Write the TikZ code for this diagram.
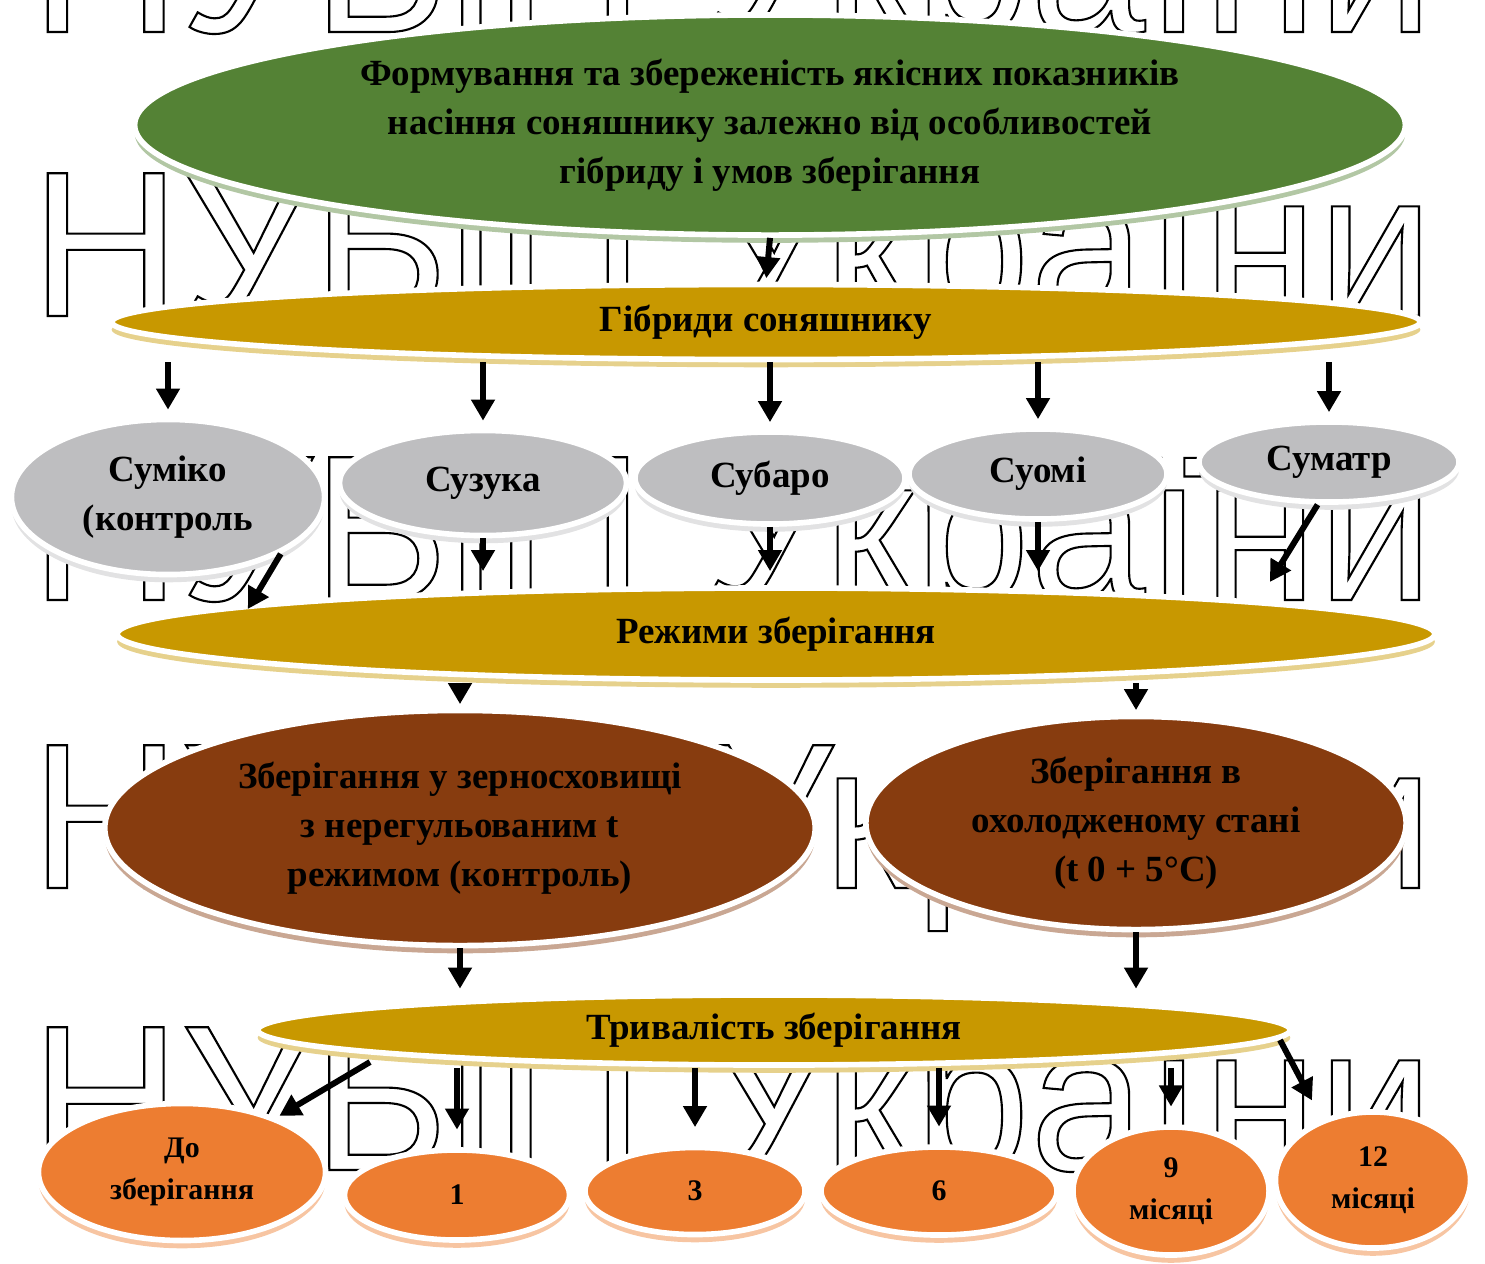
\documentclass[tikz,border=0pt]{standalone}
\usepackage{fontspec}
\setmainfont{Liberation Serif}
\newfontfamily\wmfont{Liberation Sans}
\usetikzlibrary{arrows.meta,positioning,shapes.geometric,shadows,calc}
\definecolor{leaf}{HTML}{548235}
\definecolor{gold}{HTML}{C89800}
\definecolor{ash}{HTML}{BEBEC0}
\definecolor{rust}{HTML}{873C0F}
\definecolor{peach}{HTML}{ED7D31}
% hollow letters for the watermark
\newcommand\hollowtext[1]{\special{pdf:literal direct 1 Tr 0.6 w 0 G}#1\special{pdf:literal direct 0 Tr}}

\begin{document}
\begin{tikzpicture}[x=0.01cm, y=-0.01cm,
  blob/.style={ellipse, inner sep=0pt, draw=white, line width=1.6pt, align=center,
    font=\bfseries\fontsize{10.5}{14}\selectfont,
    drop shadow={shadow xshift=0pt, shadow yshift=-2.2pt, opacity=1, fill=#1!45}, fill=#1},
  month/.style={blob=peach, font=\bfseries\fontsize{8.5}{12}\selectfont},
  arr/.style={-{Triangle[length=6pt,width=6.5pt]}, line width=1.7pt, shorten >=1pt}]
\useasboundingbox (0,0) rectangle (1485,1263);
% watermark rows
\foreach \y in {32,316,600,888,1170}
  \node[anchor=base west, inner sep=0pt, font=\wmfont\fontsize{59}{62}\selectfont] at (30,\y) {\hollowtext{НУБіП України}};

\node[blob=leaf, minimum width=12.7cm, minimum height=2.2cm] (top) at (770,125)
  {Формування та збереженість якісних показників\\насіння соняшнику залежно від особливостей\\гібриду і умов зберігання};
\node[blob=gold, minimum width=13.08cm, minimum height=0.75cm] (gib) at (766,322) {Гібриди соняшнику};

% hybrids
\node[blob=ash, minimum width=3.13cm, minimum height=1.55cm] (sumiko) at (168,497) {Суміко\\(контроль};
\node[blob=ash, minimum width=2.87cm, minimum height=1.05cm] (suzuka) at (483,483) {Сузука};
\node[blob=ash, minimum width=2.70cm, minimum height=0.92cm] (subaro) at (770,478) {Субаро};
\node[blob=ash, minimum width=2.58cm, minimum height=0.90cm] (suomi) at (1038,474) {Суомі};
\node[blob=ash, minimum width=2.60cm, minimum height=0.80cm] (sumatr) at (1329,462) {Суматр};

\node[blob=gold, minimum width=13.17cm, minimum height=0.92cm] (rezh) at (776,634) {Режими зберігання};

% storage
\node[blob=rust, minimum width=7.10cm, minimum height=2.35cm] (zern) at (460,828)
  {Зберігання у зерносховищі\\з нерегульованим t\\режимом (контроль)};
\node[blob=rust, minimum width=5.40cm, minimum height=2.13cm] (cold) at (1136,823)
  {Зберігання в\\охолодженому стані\\(t 0 + 5°C)};

\node[blob=gold, minimum width=10.32cm, minimum height=0.70cm] (tryv) at (774,1030) {Тривалість зберігання};

% months
\node[month, minimum width=2.87cm, minimum height=1.37cm] (before) at (182,1172) {До\\зберігання};
\node[month, minimum width=2.25cm, minimum height=0.90cm] (one) at (457,1195) {1};
\node[month, minimum width=2.20cm, minimum height=0.87cm] (three) at (695,1191) {3};
\node[month, minimum width=2.36cm, minimum height=0.88cm] (six) at (939,1191) {6};
\node[month, minimum width=1.96cm, minimum height=1.28cm] (nine) at (1171,1191) {9\\місяці};
\node[month, minimum width=1.95cm, minimum height=1.36cm] (twelve) at (1373,1180) {12\\місяці};

% connectors
\draw[arr] (top.south) -- (gib.north);
\foreach \h in {sumiko,suzuka,subaro,suomi,sumatr}
  \draw[arr, shorten >=2pt] (\h.north |- gib.south) -- (\h.north);
\coordinate (rezhin) at (246,612);
\draw[arr] (sumiko.south east) -- (rezhin);
\foreach \h in {suzuka,subaro,suomi}
  \draw[arr, shorten >=4pt] (\h.south) -- (\h.south |- rezh.north);
\coordinate (rezhin2) at (1268,585);
\draw[arr] (sumatr.-105) -- (rezhin2);
\draw[arr] (rezh.south -| zern.north) -- (zern.north);
\draw[arr] (rezh.south -| cold.north) -- (cold.north);
\draw[arr] (zern.south) -- (zern.south |- tryv.north);
\draw[arr] (cold.south) -- (cold.south |- tryv.north);
\coordinate (tryvout) at (370,1062);
\draw[arr] (tryvout) -- (before.30);
\foreach \m in {one,three,six,nine}
  \draw[arr, shorten >=5pt] (\m.north |- tryv.south) -- (\m.north);
\coordinate (tryvout2) at (1280,1040);
\draw[arr, shorten >=6pt] (tryvout2) -- (twelve.130);
\end{tikzpicture}
\end{document}
